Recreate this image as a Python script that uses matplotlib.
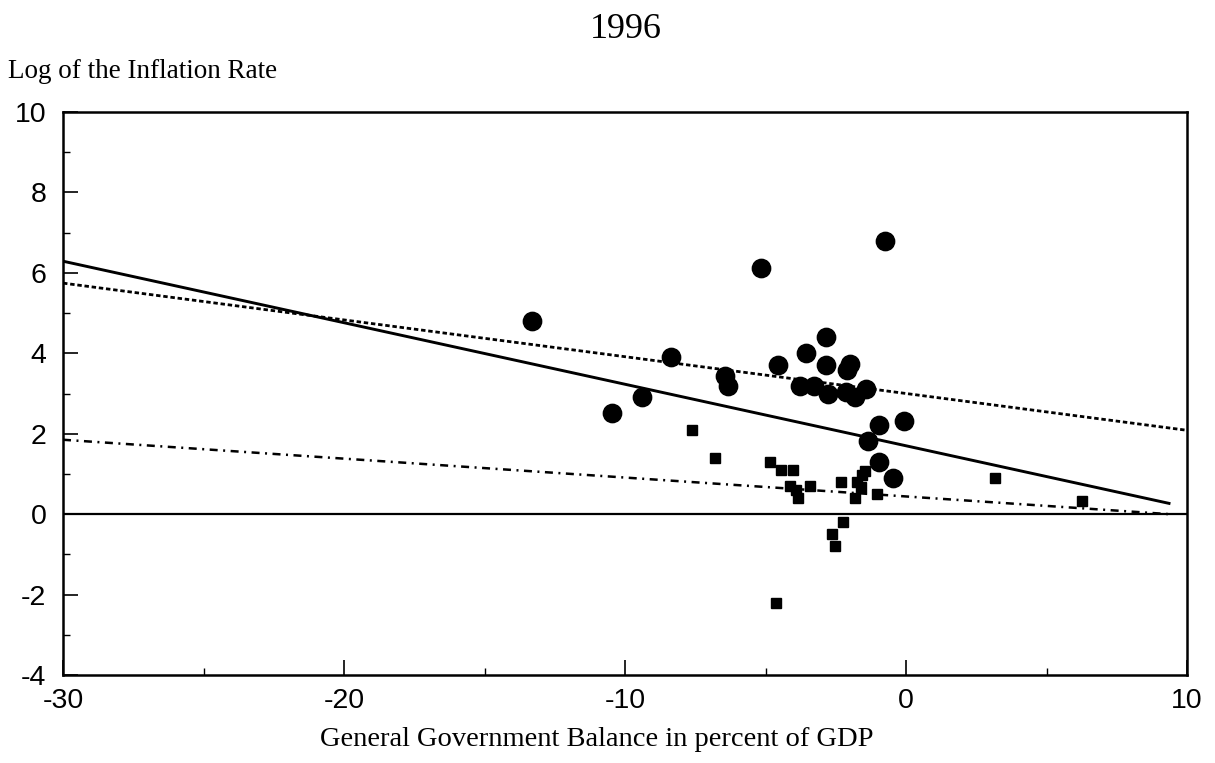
import numpy as np
import matplotlib
matplotlib.use("Agg")
import matplotlib.pyplot as plt
from matplotlib.ticker import MultipleLocator

# Countries with high inflation (circles): balance (% of GDP), log inflation
high_balance = [-13.3, -5.15, -0.74, -8.35, -6.43, -6.32, -9.41, -10.48,
                -4.54, -3.55, -2.84, -2.84, -1.98, -2.09, -3.76, -3.26,
                -2.76, -2.12, -1.80, -1.41, -0.95, -0.06, -1.34, -0.95, -0.45]
high_loginfl = [4.80, 6.12, 6.80, 3.90, 3.43, 3.18, 2.91, 2.51,
                3.71, 4.00, 4.40, 3.71, 3.73, 3.58, 3.18, 3.18,
                3.00, 3.03, 2.91, 3.11, 2.21, 2.31, 1.82, 1.29, 0.90]

# Countries with low inflation (squares)
low_balance = [-7.60, -6.78, -4.83, -4.44, -4.01, -4.12, -3.90, -3.83,
               -3.40, -2.30, -1.73, -1.60, -1.45, -1.55, -1.80, -1.02,
               -2.23, -2.62, -2.52, -4.61, 3.17, 6.27]
low_loginfl = [2.09, 1.39, 1.29, 1.09, 1.09, 0.70, 0.60, 0.40,
               0.70, 0.80, 0.80, 0.67, 1.07, 0.97, 0.40, 0.50,
               -0.20, -0.50, -0.80, -2.21, 0.90, 0.32]

# Fitted regression lines: (intercept, slope, x-range)
fit_all = (1.70, -0.153, (-30, 9.36))
fit_high = (3.00, -0.0915, (-30, 10))
fit_low = (0.44, -0.047, (-30, 9.36))

x_ticks = [-30, -20, -10, 0, 10]
y_ticks = [-4, -2, 0, 2, 4, 6, 8, 10]

plt.rcParams['font.family'] = ['Liberation Sans', 'DejaVu Sans']
plt.rcParams['axes.unicode_minus'] = False
serif = ['Liberation Serif', 'DejaVu Serif']

fig = plt.figure(figsize=(12.15, 7.63), dpi=100)
ax = fig.add_axes([63 / 1215, 1 - 675 / 763, (1187 - 63) / 1215, (675 - 112) / 763])

ax.axhline(0, color='black', lw=1.6, zorder=1)

def draw_fit(fit, **kw):
    b0, b1, (x0, x1) = fit
    xs = np.array([x0, x1])
    ax.plot(xs, b0 + b1 * xs, color='black', zorder=2, **kw)

draw_fit(fit_all, lw=2.1, ls='-')
draw_fit(fit_high, lw=2.0, ls=(0, (1.6, 1.0)))
draw_fit(fit_low, lw=1.8, ls=(0, (3.2, 2.2, 0.8, 2.2)))

ax.plot(high_balance, high_loginfl, 'o', color='black', ms=13.2, zorder=3)
ax.plot(low_balance, low_loginfl, 's', color='black', ms=7.2, zorder=3)

ax.set_xlim(-30, 10)
ax.set_ylim(-4, 10)
ax.set_xticks(x_ticks)
ax.set_yticks(y_ticks)
ax.xaxis.set_minor_locator(MultipleLocator(5))
ax.yaxis.set_minor_locator(MultipleLocator(1))
ax.tick_params(which='major', direction='in', length=11, width=1.2,
               labelsize=20.5)
ax.tick_params(axis='x', which='major', pad=9)
ax.tick_params(axis='y', which='major', pad=12)
ax.tick_params(which='minor', direction='in', length=5, width=1.0)
ax.tick_params(top=False, right=False, which='both')
for s in ax.spines.values():
    s.set_linewidth(1.8)

fig.text(626 / 1215, 1 - 38 / 763, '1996', ha='center', va='baseline',
         fontsize=26, family=serif)
fig.text(8 / 1215, 1 - 72 / 763, 'Log of the Inflation Rate', ha='left',
         va='center', fontsize=19.5, family=serif)
fig.text(597 / 1215, 1 - 739 / 763,
         'General Government Balance in percent of GDP', ha='center',
         va='center', fontsize=20.5, family=serif)

fig.savefig('out.png', dpi=100)
